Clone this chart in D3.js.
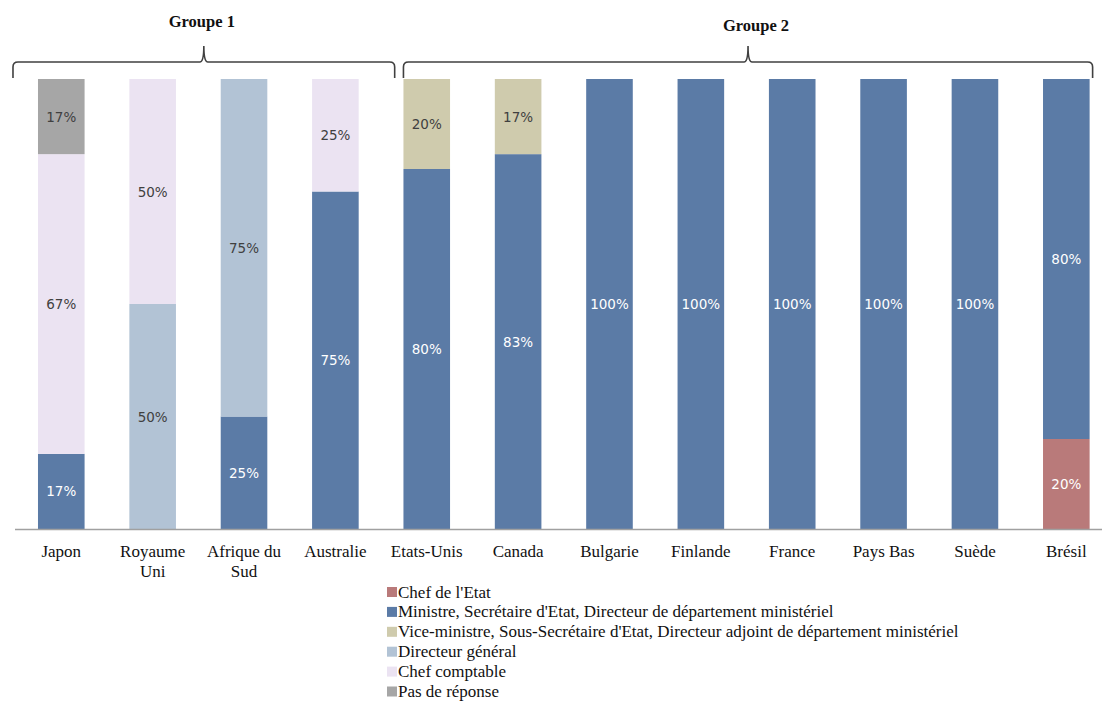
<!DOCTYPE html>
<meta charset="utf-8">
<style>
  body { margin: 0; background: #fff; }
  .cat { font-family: "Liberation Serif", serif; font-size: 17px; fill: #111; }
  .val { font-family: "DejaVu Sans", sans-serif; font-size: 13.5px; }
  .grp { font-family: "Liberation Serif", serif; font-size: 16.5px; font-weight: bold; fill: #111; }
  .leg { font-family: "Liberation Serif", serif; font-size: 17px; fill: #111; }
</style>
<svg width="1102" height="701"></svg>
<script src="https://d3js.org/d3.v7.min.js"></script>
<script>
  // Data (percent of respondents per country)
  var countries = ["Japon", "Royaume Uni", "Afrique du Sud", "Australie", "Etats-Unis", "Canada",
    "Bulgarie", "Finlande", "France", "Pays Bas", "Suède", "Brésil"];

  var chefEtat         = [0, 0, 0, 0, 0, 0, 0, 0, 0, 0, 0, 20];
  var ministre         = [16.7, 0, 25, 75, 80, 83.3, 100, 100, 100, 100, 100, 80];
  var viceMinistre     = [0, 0, 0, 0, 20, 16.7, 0, 0, 0, 0, 0, 0];
  var directeurGeneral = [0, 50, 75, 0, 0, 0, 0, 0, 0, 0, 0, 0];
  var chefComptable    = [66.6, 50, 0, 25, 0, 0, 0, 0, 0, 0, 0, 0];
  var pasDeReponse     = [16.7, 0, 0, 0, 0, 0, 0, 0, 0, 0, 0, 0];

  var seriesNames = [
    "Chef de l'Etat",
    "Ministre, Secrétaire d'Etat, Directeur de département ministériel",
    "Vice-ministre, Sous-Secrétaire d'Etat, Directeur adjoint de département ministériel",
    "Directeur général",
    "Chef comptable",
    "Pas de réponse"
  ];
  var seriesValues = [chefEtat, ministre, viceMinistre, directeurGeneral, chefComptable, pasDeReponse];
  var seriesColors = ["#b97a7a", "#5b7ba6", "#cfcbad", "#b2c3d5", "#ebe3f2", "#a6a6a6"];
  var labelColors = ["#ffffff", "#ffffff", "#404040", "#404040", "#404040", "#404040"];

  var groupNames = ["Groupe 1", "Groupe 2"];
  var groupFirst = ["Japon", "Etats-Unis"];
  var groupLast = ["Australie", "Brésil"];

  var svg = d3.select("svg");

  var x = d3.scaleBand()
    .domain(countries)
    .range([15.6, 1112])
    .paddingInner(0.49)
    .paddingOuter(0.245);

  var y = d3.scaleLinear()
    .domain([0, 100])
    .range([529, 79]);

  // build rows for the stack
  var keys = seriesNames;
  var rows = countries.map(function (c, i) {
    var r = { country: c };
    keys.forEach(function (k, j) { r[k] = seriesValues[j][i]; });
    return r;
  });
  var stacked = d3.stack().keys(keys)(rows);

  var layer = svg.append("g")
    .selectAll("g")
    .data(stacked)
    .join("g")
    .attr("fill", function (d, i) { return seriesColors[i]; });

  layer.selectAll("rect")
    .data(function (d) { return d; })
    .join("rect")
    .attr("x", function (d) { return x(d.data.country); })
    .attr("width", x.bandwidth())
    .attr("y", function (d) { return y(d[1]); })
    .attr("height", function (d) { return y(d[0]) - y(d[1]); });

  // value labels
  stacked.forEach(function (s, i) {
    svg.append("g")
      .selectAll("text")
      .data(s.filter(function (d) { return d[1] - d[0] > 0; }))
      .join("text")
      .attr("class", "val")
      .attr("fill", labelColors[i])
      .attr("text-anchor", "middle")
      .attr("dominant-baseline", "central")
      .attr("x", function (d) { return x(d.data.country) + x.bandwidth() / 2; })
      .attr("y", function (d) { return y((d[0] + d[1]) / 2); })
      .text(function (d) { return Math.round(d[1] - d[0]) + "%"; });
  });

  // x axis
  var xAxis = svg.append("g")
    .attr("transform", "translate(0,529)")
    .call(d3.axisBottom(x).tickSize(0).tickPadding(0));
  xAxis.select(".domain").remove();
  svg.append("line")
    .attr("x1", 15).attr("x2", 1102)
    .attr("y1", 529.5).attr("y2", 529.5)
    .attr("stroke", "#a0a0a0")
    .attr("stroke-width", 1.5);

  xAxis.selectAll(".tick text")
    .attr("class", "cat")
    .attr("font-family", null)
    .attr("font-size", null)
    .attr("fill", null)
    .attr("y", 0)
    .attr("dy", null)
    .each(function (d) {
      var t = d3.select(this);
      var words = d.split(" ");
      var lines = [];
      var cur = [];
      t.text(null);
      words.forEach(function (w) {
        var test = cur.concat([w]).join(" ");
        if (cur.length && test.length > 10) {
          lines.push(cur.join(" "));
          cur = [w];
        } else {
          cur.push(w);
        }
      });
      lines.push(cur.join(" "));
      lines.forEach(function (l, k) {
        t.append("tspan")
          .attr("x", 0)
          .attr("y", 28 + k * 20)
          .text(l);
      });
    });

  // group braces
  groupNames.forEach(function (g, i) {
    var x0 = i === 0 ? x(groupFirst[i]) - 25 : x(groupFirst[i]);
    var x1 = i === 0 ? x(groupLast[i]) + x.bandwidth() + 36 : x(groupLast[i]) + x.bandwidth() + 3;
    var cx = (x0 + x1) / 2;
    var yl = 62, yEnd = 78, yTip = 46;
    var p = d3.path();
    p.moveTo(x0, yEnd);
    p.lineTo(x0, yl + 5);
    p.quadraticCurveTo(x0, yl, x0 + 5, yl);
    p.lineTo(cx - 4, yl);
    p.quadraticCurveTo(cx, yl, cx, yTip);
    p.quadraticCurveTo(cx, yl, cx + 4, yl);
    p.lineTo(x1 - 5, yl);
    p.quadraticCurveTo(x1, yl, x1, yl + 5);
    p.lineTo(x1, yEnd);
    svg.append("path")
      .attr("d", p.toString())
      .attr("fill", "none")
      .attr("stroke", "#404040")
      .attr("stroke-width", 1.6);
    svg.append("text")
      .attr("class", "grp")
      .attr("text-anchor", "middle")
      .attr("x", cx + (i === 0 ? -2 : 8))
      .attr("y", i === 0 ? 27 : 31)
      .text(g);
  });

  // legend
  var legend = svg.append("g")
    .attr("transform", "translate(387,592)");
  var li = legend.selectAll("g")
    .data(seriesNames)
    .join("g")
    .attr("transform", function (d, i) { return "translate(0," + i * 19.9 + ")"; });
  li.append("rect")
    .attr("x", 0).attr("y", -5)
    .attr("width", 10).attr("height", 10)
    .attr("fill", function (d, i) { return seriesColors[i]; });
  li.append("text")
    .attr("class", "leg")
    .attr("x", 11)
    .attr("dominant-baseline", "central")
    .text(function (d) { return d; });
</script>
